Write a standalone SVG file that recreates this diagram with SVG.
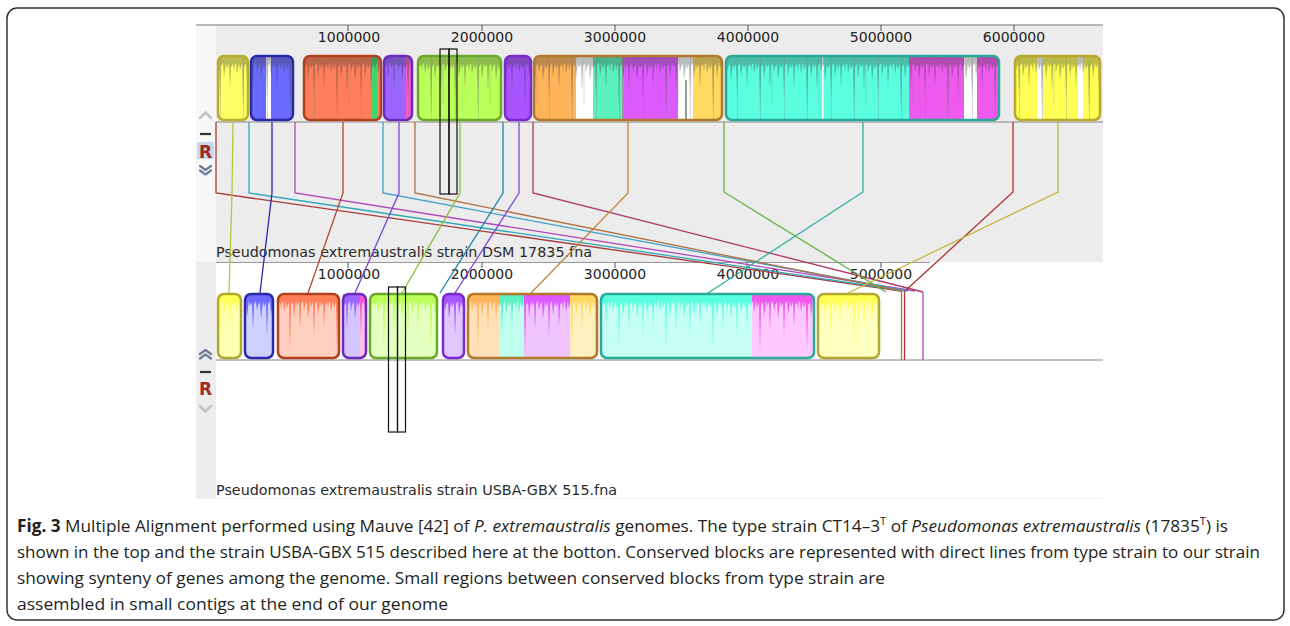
<svg xmlns="http://www.w3.org/2000/svg" width="1290" height="626" viewBox="0 0 1290 626">
<style>
.rl{font-family:"DejaVu Sans",sans-serif;font-size:14px;fill:#222;text-anchor:middle}
.nm{font-family:"DejaVu Sans",sans-serif;font-size:14px;fill:#2a2a2a}
.cap{font-family:"Open Sans","Liberation Sans",sans-serif;font-size:17px;fill:#231f20}
.ob{fill:none;stroke-width:2.5}
.jd{fill:url(#jagD)}
.cn polyline,.cn line{fill:none;stroke-width:1.3}
.tk{stroke:#555;stroke-width:1}
.sel{fill:none;stroke:#111;stroke-width:1.2}
.chl{fill:none;stroke:#c4c4c4;stroke-width:2.6;stroke-linecap:round;stroke-linejoin:round}
.chd{fill:none;stroke:#6e7d96;stroke-width:2.2;stroke-linecap:round;stroke-linejoin:round}
.R{font-family:"DejaVu Sans",sans-serif;font-weight:bold;font-size:17px;fill:#a02a1e;text-anchor:middle}
</style>
<defs>
<pattern id="jagD" patternUnits="userSpaceOnUse" x="0" y="55" width="47" height="238">
<path d="M0 0H47V9L46 16L45 9L43 12L42 34L41 9L39 14L38 8L36 22L35 8L33 11L32 44L31 9L29 14L28 8L26 26L25 9L23 12L22 18L21 8L19 11L18 38L17 9L15 13L14 7L12 24L11 9L9 12L8 58L7 9L5 15L4 8L2 19L1 8L0 9Z" fill="#303030" fill-opacity="0.33"/>
<path d="M8.5 0V66M32.5 0V66M20 0V50" stroke="#777" stroke-opacity="0.35" stroke-width="0.8"/>
</pattern>
<pattern id="jagW" patternUnits="userSpaceOnUse" x="0" y="55" width="47" height="238">
<path d="M0 0H47V9L46 16L45 9L43 12L42 34L41 9L39 14L38 8L36 22L35 8L33 11L32 44L31 9L29 14L28 8L26 26L25 9L23 12L22 18L21 8L19 11L18 38L17 9L15 13L14 7L12 24L11 9L9 12L8 58L7 9L5 15L4 8L2 19L1 8L0 9Z" fill="#fff"/>
</pattern>
<mask id="mj" maskUnits="userSpaceOnUse" x="0" y="0" width="1290" height="626">
<rect x="0" y="0" width="1290" height="626" fill="url(#jagW)"/>
</mask>
</defs>

<rect x="0" y="0" width="1290" height="626" fill="#fff"/>
<rect x="7" y="8" width="1277" height="612" rx="10" fill="none" stroke="#333" stroke-width="1.5"/>

<!-- panels -->
<g id="panel-top">
<rect x="196" y="25" width="20" height="237" fill="#f7f7f7"/>
<rect x="216" y="25" width="887" height="237" fill="#ececec"/>
<line x1="196" y1="25" x2="1103" y2="25" stroke="#777" stroke-width="1.2"/>
<line x1="216" y1="122" x2="1103" y2="122" stroke="#888" stroke-width="1.2"/>
<g class="tk"><line x1="348" y1="25" x2="348" y2="31"/><line x1="482" y1="25" x2="482" y2="31"/><line x1="615" y1="25" x2="615" y2="31"/><line x1="748" y1="25" x2="748" y2="31"/><line x1="881" y1="25" x2="881" y2="31"/><line x1="1014" y1="25" x2="1014" y2="31"/></g>
<text class="rl" x="349" y="42">1000000</text>
<text class="rl" x="482" y="42">2000000</text>
<text class="rl" x="615" y="42">3000000</text>
<text class="rl" x="748" y="42">4000000</text>
<text class="rl" x="881" y="42">5000000</text>
<text class="rl" x="1014" y="42">6000000</text>
<polyline class="chl" points="200,118 205.5,112.5 211,118"/>
<line x1="200" y1="134" x2="211" y2="134" stroke="#333" stroke-width="2.2"/>
<rect x="197" y="142" width="17" height="17" fill="#c9d7ea"/>
<text class="R" x="205.5" y="157.5">R</text>
<polyline class="chd" points="200,166 205.5,170 211,166"/>
<polyline class="chd" points="200,170.5 205.5,174.5 211,170.5"/>
<text class="nm" x="216" y="257" textLength="376" lengthAdjust="spacingAndGlyphs">Pseudomonas extremaustralis strain DSM 17835.fna</text>
</g>

<g id="panel-bottom">
<rect x="196" y="262" width="20" height="236" fill="#ededed"/>
<line x1="216" y1="262.5" x2="930" y2="262.5" stroke="#999" stroke-width="1.2"/>
<line x1="216" y1="360" x2="1103" y2="360" stroke="#888" stroke-width="1.2"/>
<line x1="196" y1="498.5" x2="1103" y2="498.5" stroke="#eee" stroke-width="1"/>
<g class="tk"><line x1="348" y1="262" x2="348" y2="268"/><line x1="482" y1="262" x2="482" y2="268"/><line x1="615" y1="262" x2="615" y2="268"/><line x1="747" y1="262" x2="747" y2="268"/><line x1="881" y1="262" x2="881" y2="268"/></g>
<text class="rl" x="349" y="279">1000000</text>
<text class="rl" x="482" y="279">2000000</text>
<text class="rl" x="615" y="279">3000000</text>
<text class="rl" x="748" y="279">4000000</text>
<text class="rl" x="881" y="279">5000000</text>
<polyline class="chd" points="200,354 205.5,350 211,354"/>
<polyline class="chd" points="200,358.5 205.5,354.5 211,358.5"/>
<line x1="200" y1="372" x2="211" y2="372" stroke="#333" stroke-width="2.2"/>
<text class="R" x="205.5" y="395">R</text>
<polyline class="chl" points="200,406 205.5,411.5 211,406"/>
<text class="nm" x="216" y="495" textLength="401" lengthAdjust="spacingAndGlyphs">Pseudomonas extremaustralis strain USBA-GBX 515.fna</text>
</g>

<!-- top genome blocks -->
<g id="t1"><rect x="218" y="56" width="30" height="64" rx="6" fill="#ffff66"/><rect x="218" y="56" width="30" height="64" rx="6" class="jd"/><rect x="218" y="56" width="30" height="64" rx="6" class="ob" stroke="#b8b02c"/></g>
<g id="t2"><rect x="251" y="56" width="42" height="64" rx="6" fill="#6a6aff"/><rect x="266" y="57" width="5" height="62" fill="#fff"/><rect x="251" y="56" width="42" height="64" rx="6" class="jd"/><rect x="251" y="56" width="42" height="64" rx="6" class="ob" stroke="#2a2aa8"/></g>
<g id="t3"><rect x="304" y="56" width="77" height="64" rx="6" fill="#ff7f5a"/><rect x="372" y="57" width="5" height="62" fill="#3ad870"/><rect x="304" y="56" width="77" height="64" rx="6" class="jd"/><rect x="304" y="56" width="77" height="64" rx="6" class="ob" stroke="#b0401e"/></g>
<g id="t4"><rect x="384" y="56" width="28" height="64" rx="6" fill="#ff55cc"/><rect x="384" y="56" width="22" height="64" rx="6" fill="#9a66ff"/><rect x="396" y="57" width="7" height="62" fill="#9a66ff"/><rect x="384" y="56" width="28" height="64" rx="6" class="jd"/><rect x="384" y="56" width="28" height="64" rx="6" class="ob" stroke="#6a2ac0"/></g>
<g id="t5"><rect x="418" y="56" width="83" height="64" rx="6" fill="#bbff5a"/><rect x="418" y="56" width="83" height="64" rx="6" class="jd"/><rect x="418" y="56" width="83" height="64" rx="6" class="ob" stroke="#6aaa28"/></g>
<g id="t6"><rect x="505" y="56" width="26" height="64" rx="6" fill="#a855ff"/><rect x="505" y="56" width="26" height="64" rx="6" class="jd"/><rect x="505" y="56" width="26" height="64" rx="6" class="ob" stroke="#7a2ad0"/></g>
<g id="t7"><rect x="534" y="56" width="188" height="64" rx="6" fill="#ffd960"/><rect x="534" y="56" width="52" height="64" rx="6" fill="#ffb45a"/><rect x="576" y="57" width="17" height="62" fill="#fff"/><rect x="593" y="57" width="29" height="62" fill="#5af0c0"/><rect x="622" y="57" width="2" height="62" fill="#999"/><rect x="624" y="57" width="54" height="62" fill="#dc5aff"/><rect x="678" y="57" width="15" height="62" fill="#fff"/><rect x="685" y="80" width="2" height="39" fill="#999"/><rect x="534" y="56" width="188" height="64" rx="6" class="jd"/><rect x="534" y="56" width="188" height="64" rx="6" class="ob" stroke="#b07a2a"/></g>
<g id="t8"><rect x="726" y="56" width="273" height="64" rx="6" fill="#ee5aee"/><rect x="726" y="56" width="190" height="64" rx="6" fill="#5affe0"/><rect x="909" y="57" width="10" height="62" fill="#ee5aee"/><rect x="964" y="57" width="13" height="62" fill="#fff"/><rect x="822" y="57" width="1.5" height="62" fill="#fff"/><rect x="726" y="56" width="273" height="64" rx="6" class="jd"/><rect x="726" y="56" width="273" height="64" rx="6" class="ob" stroke="#2aa898"/></g>
<g id="t9"><rect x="1015" y="56" width="85" height="64" rx="6" fill="#ffff55"/><rect x="1037" y="57" width="6" height="62" fill="#fff"/><rect x="1078" y="57" width="5" height="62" fill="#fff"/><rect x="1015" y="56" width="85" height="64" rx="6" class="jd"/><rect x="1015" y="56" width="85" height="64" rx="6" class="ob" stroke="#b8a82c"/></g>

<!-- bottom genome blocks -->
<g id="b1"><rect x="218" y="294" width="23" height="64" rx="6" fill="#ffffb0"/><rect x="218" y="294" width="23" height="64" rx="6" fill="#ffff55" mask="url(#mj)"/><rect x="218" y="294" width="23" height="64" rx="6" class="ob" stroke="#b0a830"/></g>
<g id="b2"><rect x="245" y="294" width="28" height="64" rx="6" fill="#d0d0ff"/><rect x="245" y="294" width="28" height="64" rx="6" fill="#6a6aff" mask="url(#mj)"/><rect x="245" y="294" width="28" height="64" rx="6" class="ob" stroke="#2a2aa8"/></g>
<g id="b3"><rect x="278" y="294" width="61" height="64" rx="6" fill="#ffd0c0"/><rect x="278" y="294" width="61" height="64" rx="6" fill="#ff7f5a" mask="url(#mj)"/><rect x="278" y="294" width="61" height="64" rx="6" class="ob" stroke="#b0401e"/></g>
<g id="b4"><rect x="343" y="294" width="23" height="64" rx="6" fill="#ffc0e8"/><rect x="343" y="294" width="17" height="64" rx="6" fill="#d4c4ff"/><rect x="352" y="295" width="8" height="62" fill="#d4c4ff"/><g mask="url(#mj)"><rect x="343" y="294" width="23" height="64" rx="6" fill="#ff55cc"/><rect x="343" y="294" width="17" height="64" fill="#9a66ff"/></g><rect x="343" y="294" width="23" height="64" rx="6" class="ob" stroke="#6a2ac0"/></g>
<g id="b5"><rect x="370" y="294" width="67" height="64" rx="6" fill="#e4ffc0"/><rect x="370" y="294" width="67" height="64" rx="6" fill="#bbff5a" mask="url(#mj)"/><rect x="370" y="294" width="67" height="64" rx="6" class="ob" stroke="#6aaa28"/></g>
<g id="b6"><rect x="443" y="294" width="21" height="64" rx="6" fill="#e0c8ff"/><rect x="443" y="294" width="21" height="64" rx="6" fill="#a855ff" mask="url(#mj)"/><rect x="443" y="294" width="21" height="64" rx="6" class="ob" stroke="#7a2ad0"/></g>
<g id="b7"><rect x="468" y="294" width="129" height="64" rx="6" fill="#fff0c0"/><rect x="468" y="294" width="40" height="64" rx="6" fill="#ffe0b8"/><rect x="500" y="295" width="24" height="62" fill="#c0fff0"/><rect x="524" y="295" width="46" height="62" fill="#f0c4ff"/><g mask="url(#mj)"><rect x="468" y="294" width="129" height="64" rx="6" fill="#ffd960"/><rect x="468" y="294" width="32" height="64" fill="#ffb45a"/><rect x="500" y="294" width="24" height="64" fill="#5af0c0"/><rect x="524" y="294" width="46" height="64" fill="#dc5aff"/></g><rect x="468" y="294" width="129" height="64" rx="6" class="ob" stroke="#b07a2a"/></g>
<g id="b8"><rect x="601" y="294" width="213" height="64" rx="6" fill="#ffc8ff"/><rect x="601" y="294" width="160" height="64" rx="6" fill="#c8fff4"/><rect x="752" y="295" width="10" height="62" fill="#ffc8ff"/><g mask="url(#mj)"><rect x="601" y="294" width="213" height="64" rx="6" fill="#ee5aee"/><rect x="601" y="294" width="151" height="64" fill="#5affe0"/></g><rect x="601" y="294" width="213" height="64" rx="6" class="ob" stroke="#2aa898"/></g>
<g id="b9"><rect x="818" y="294" width="61" height="64" rx="6" fill="#ffffc0"/><rect x="818" y="294" width="61" height="64" rx="6" fill="#ffff55" mask="url(#mj)"/><rect x="818" y="294" width="61" height="64" rx="6" class="ob" stroke="#b0a830"/></g>

<!-- connectors -->
<g id="connectors" class="cn">
<polyline points="216,122 216,193 901,291" stroke="#a83a3a"/>
<polyline points="233,122 232,193 229,293" stroke="#c0c040"/>
<polyline points="249,122 249,193 905,291" stroke="#30a8b8"/>
<polyline points="272,122 272,193 260,293" stroke="#2a2aa8"/>
<polyline points="295,122 295,193 915,291" stroke="#b048b8"/>
<polyline points="343,122 343,193 308,293" stroke="#b0482a"/>
<polyline points="383,122 383,193 908,291" stroke="#40a0c8"/>
<polyline points="399,122 399,193 355,293" stroke="#7a48d8"/>
<polyline points="415,122 415,193 902,291" stroke="#b07040"/>
<polyline points="460,122 460,193 402,293" stroke="#88c038"/>
<polyline points="503,122 503,193 440,293" stroke="#1a8aa8"/>
<polyline points="519,122 519,193 455,293" stroke="#8048d8"/>
<polyline points="533,122 533,193 923,292" stroke="#b03868"/>
<polyline points="628,122 628,193 531,293" stroke="#c08838"/>
<polyline points="724,122 724,192 886,292" stroke="#68b040"/>
<polyline points="863,122 863,192 708,293" stroke="#30b0a0"/>
<polyline points="1013,122 1013,192 905,291" stroke="#b03030"/>
<polyline points="1058,122 1058,192 848,293" stroke="#c0b840"/>
<line x1="901.5" y1="291" x2="901.5" y2="360" stroke="#b07040"/>
<line x1="904.5" y1="291" x2="904.5" y2="360" stroke="#b03030"/>
<line x1="923" y1="292" x2="923" y2="360" stroke="#b048b8"/>
</g>

<!-- selection markers -->
<g id="sel-top"><rect class="sel" x="440" y="49" width="9" height="145"/><rect class="sel" x="449" y="49" width="8" height="145"/></g>
<g id="sel-bottom"><rect class="sel" x="388.5" y="287" width="9" height="145"/><rect class="sel" x="397.5" y="287" width="8" height="145"/></g>

<!-- caption -->
<g id="caption">
<text class="cap" x="17" y="532" textLength="1211" lengthAdjust="spacingAndGlyphs"><tspan font-weight="bold">Fig. 3</tspan> Multiple Alignment performed using Mauve [42] of <tspan font-style="italic">P. extremaustralis</tspan> genomes. The type strain CT14–3<tspan font-size="11" dy="-7">T</tspan><tspan dy="7"> of </tspan><tspan font-style="italic">Pseudomonas extremaustralis</tspan> (17835<tspan font-size="11" dy="-7">T</tspan><tspan dy="7">) is</tspan></text>
<text class="cap" x="17" y="558" textLength="1243" lengthAdjust="spacingAndGlyphs">shown in the top and the strain USBA-GBX 515 described here at the botton. Conserved blocks are represented with direct lines from type strain to our strain</text>
<text class="cap" x="17" y="584" textLength="868" lengthAdjust="spacingAndGlyphs">showing synteny of genes among the genome. Small regions between conserved blocks from type strain are</text>
<text class="cap" x="17" y="610" textLength="431" lengthAdjust="spacingAndGlyphs">assembled in small contigs at the end of our genome</text>
</g>
</svg>
